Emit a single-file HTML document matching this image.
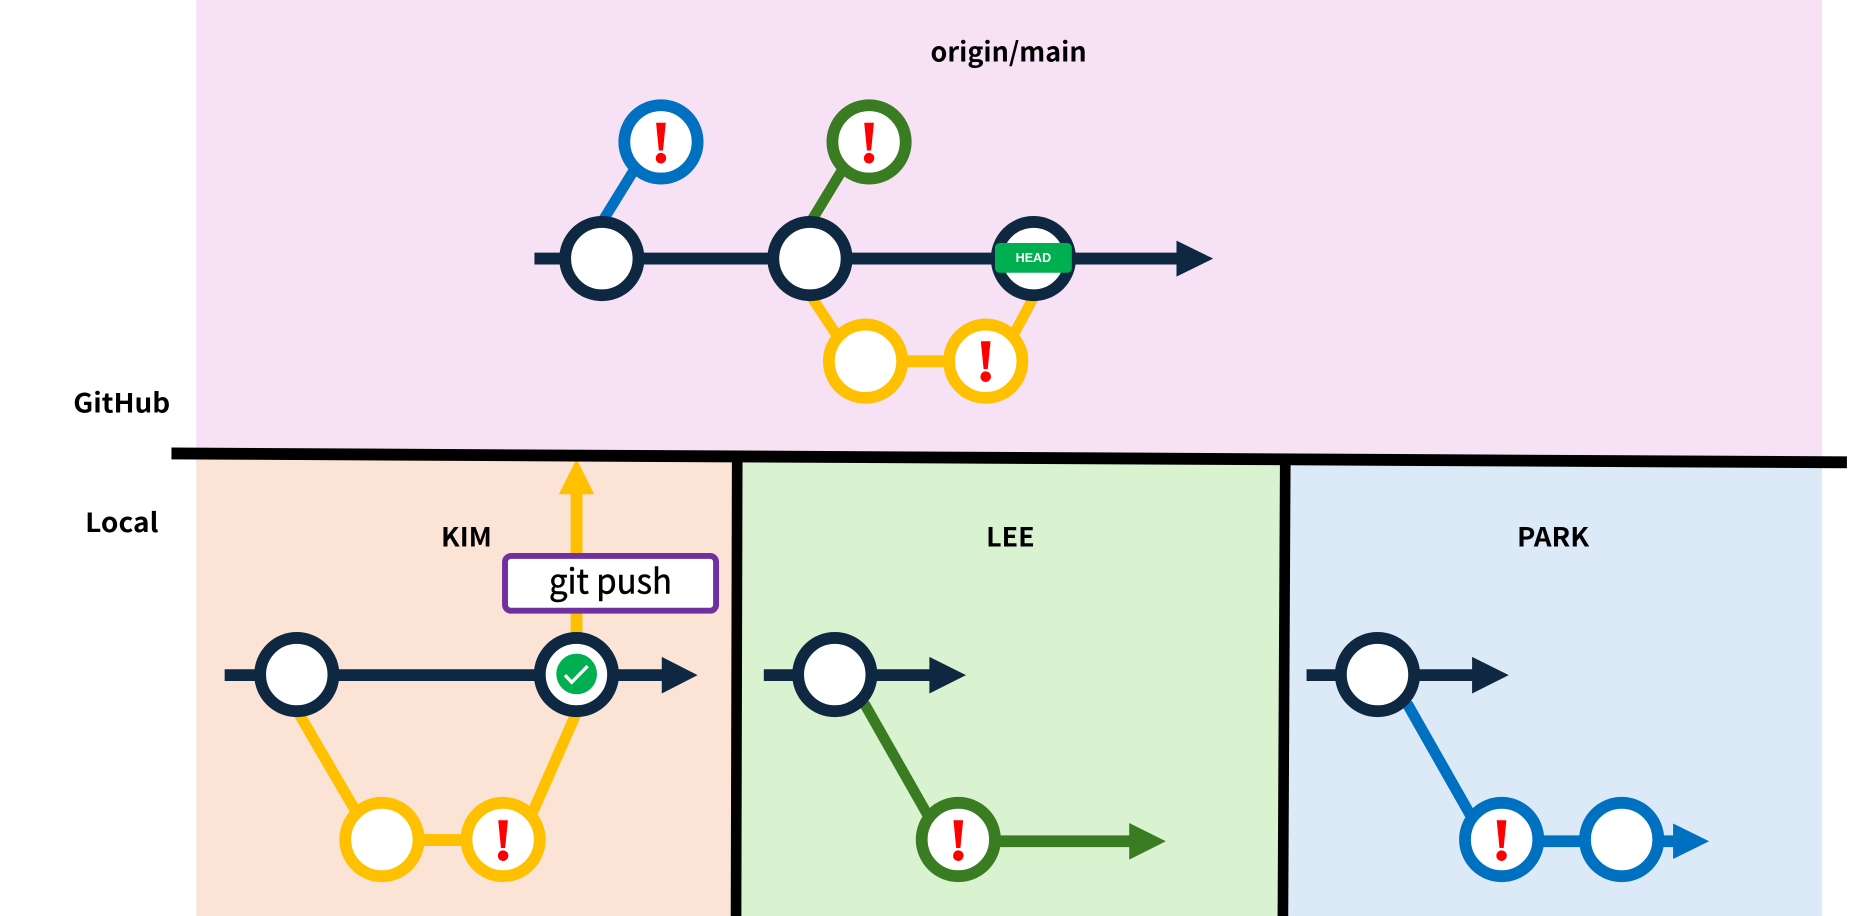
<!DOCTYPE html>
<html>
<head>
<meta charset="utf-8">
<style>
html,body{margin:0;padding:0;background:#fff;width:1854px;height:916px;overflow:hidden}
svg{display:block}
text{font-family:"Liberation Sans","Noto Sans CJK KR",sans-serif}
.lb{font-family:"Noto Sans CJK KR","Liberation Sans",sans-serif;font-weight:700;font-size:22.5px;fill:#000}
.bang{font-family:"Liberation Serif",serif;font-weight:700;font-size:50px;fill:#f00;stroke:#f00;stroke-width:0.8px;text-anchor:middle}
</style>
</head>
<body>
<svg xmlns="http://www.w3.org/2000/svg" width="1854" height="916" viewBox="0 0 1568 774.7" preserveAspectRatio="none">
<!-- backgrounds -->
<rect x="166" y="0" width="1375" height="387" fill="#F6E1F5"/>
<rect x="166" y="385" width="456" height="390" fill="#FBE3D6"/>
<rect x="624" y="385" width="463" height="390" fill="#D9F2D0"/>
<rect x="1087" y="385" width="454" height="390" fill="#DCEAF7"/>

<!-- top connectors -->
<g fill="none" stroke-width="9">
<line x1="509" y1="188" x2="538" y2="141" stroke="#0070C0"/>
<line x1="685.5" y1="188" x2="714" y2="141" stroke="#3A7C22"/>
<line x1="685.5" y1="250" x2="710" y2="287" stroke="#FFC000"/>
<line x1="875" y1="250" x2="855" y2="287" stroke="#FFC000"/>
</g>
<line x1="765" y1="305.5" x2="800" y2="305.5" stroke="#FFC000" stroke-width="10"/>
<line x1="452" y1="218.7" x2="996" y2="218.7" stroke="#0E2841" stroke-width="10"/>
<polygon points="995,203.5 1026,218.7 995,234" fill="#0E2841"/>

<!-- top circles -->
<g fill="#fff" stroke-width="10">
<circle cx="559" cy="120" r="31" stroke="#0070C0"/>
<circle cx="735" cy="120" r="31" stroke="#3A7C22"/>
<circle cx="509" cy="218.7" r="31" stroke="#0E2841"/>
<circle cx="685" cy="218.7" r="31" stroke="#0E2841"/>
<circle cx="874" cy="218.7" r="31" stroke="#0E2841"/>
<circle cx="732" cy="305.5" r="31" stroke="#FFC000"/>
<circle cx="833.7" cy="305.5" r="31" stroke="#FFC000"/>
</g>
<text class="bang" x="559" y="137">!</text>
<text class="bang" x="735" y="137">!</text>
<text class="bang" x="833.7" y="322">!</text>
<rect x="841.5" y="205.5" width="65" height="25.2" rx="4" fill="#00B050"/>
<text x="859" y="221.7" font-size="11" font-weight="700" fill="#fff" textLength="30" lengthAdjust="spacingAndGlyphs">HEAD</text>

<!-- KIM -->
<line x1="487.6" y1="540" x2="487.6" y2="416" stroke="#FFC000" stroke-width="10"/>
<polygon points="487.6,388 502.5,418 472.7,418" fill="#FFC000"/>
<rect x="427.1" y="470.2" width="178.5" height="46.3" rx="5" fill="#fff" stroke="#7030A0" stroke-width="5"/>
<text x="464.3" y="502" font-size="28.5" fill="#000" stroke="#000" stroke-width="0.4" style="font-family:'Noto Sans CJK KR','Liberation Sans',sans-serif" textLength="104" lengthAdjust="spacingAndGlyphs">git push</text>
<g fill="none" stroke="#FFC000" stroke-width="9.3">
<line x1="253" y1="604" x2="302" y2="688"/>
<line x1="487" y1="604" x2="450" y2="688"/>
</g>
<line x1="355" y1="710.5" x2="395" y2="710.5" stroke="#FFC000" stroke-width="10"/>
<line x1="190" y1="571" x2="561" y2="571" stroke="#0E2841" stroke-width="10"/>
<polygon points="559.7,555.5 590,571 559.7,586.5" fill="#0E2841"/>
<g fill="#fff" stroke-width="10">
<circle cx="251" cy="570.5" r="31" stroke="#0E2841"/>
<circle cx="487.5" cy="570.5" r="31" stroke="#0E2841"/>
<circle cx="323" cy="710" r="31" stroke="#FFC000"/>
<circle cx="425.5" cy="710" r="31" stroke="#FFC000"/>
</g>
<text class="bang" x="425.5" y="727">!</text>
<circle cx="487.7" cy="570" r="17.2" fill="#00B050"/>
<polyline points="477.8,571 483.5,577 497,563.3" fill="none" stroke="#fff" stroke-width="2.8"/>

<!-- LEE -->
<line x1="731" y1="595" x2="785" y2="690" stroke="#3A7C22" stroke-width="9"/>
<line x1="646" y1="571" x2="787" y2="571" stroke="#0E2841" stroke-width="10"/>
<polygon points="786,555.5 817,571 786,586.5" fill="#0E2841"/>
<line x1="840" y1="711.5" x2="956" y2="711.5" stroke="#3A7C22" stroke-width="10"/>
<polygon points="955,696 986,711.5 955,727" fill="#3A7C22"/>
<g fill="#fff" stroke-width="10">
<circle cx="706" cy="570.5" r="31" stroke="#0E2841"/>
<circle cx="810.5" cy="710" r="31" stroke="#3A7C22"/>
</g>
<text class="bang" x="810.5" y="727">!</text>

<!-- PARK -->
<line x1="1190" y1="595" x2="1244" y2="690" stroke="#0070C0" stroke-width="9.3"/>
<line x1="1105" y1="571" x2="1246" y2="571" stroke="#0E2841" stroke-width="10"/>
<polygon points="1245,555.5 1276,571 1245,586.5" fill="#0E2841"/>
<line x1="1300" y1="711.5" x2="1418" y2="711.5" stroke="#0070C0" stroke-width="10"/>
<polygon points="1415,696.5 1445.5,711.5 1415,726.5" fill="#0070C0"/>
<g fill="#fff" stroke-width="10">
<circle cx="1165" cy="570.5" r="31" stroke="#0E2841"/>
<circle cx="1270" cy="710" r="31" stroke="#0070C0"/>
<circle cx="1371.5" cy="710" r="31" stroke="#0070C0"/>
</g>
<text class="bang" x="1270" y="727">!</text>

<!-- dividers -->
<line x1="145" y1="383.5" x2="1562" y2="391" stroke="#000" stroke-width="10"/>
<line x1="623.5" y1="388" x2="622.5" y2="775" stroke="#000" stroke-width="9"/>
<line x1="1087" y1="390" x2="1085" y2="775" stroke="#000" stroke-width="9"/>

<!-- labels -->
<text class="lb" x="787" y="52" textLength="132" lengthAdjust="spacingAndGlyphs">origin/main</text>
<text class="lb" x="62" y="349" textLength="82" lengthAdjust="spacingAndGlyphs">GitHub</text>
<text class="lb" x="72" y="450" textLength="62" lengthAdjust="spacingAndGlyphs">Local</text>
<text class="lb" x="373" y="462" textLength="43" lengthAdjust="spacingAndGlyphs">KIM</text>
<text class="lb" x="834" y="462" textLength="41" lengthAdjust="spacingAndGlyphs">LEE</text>
<text class="lb" x="1283" y="462" textLength="61" lengthAdjust="spacingAndGlyphs">PARK</text>
</svg>
</body>
</html>
